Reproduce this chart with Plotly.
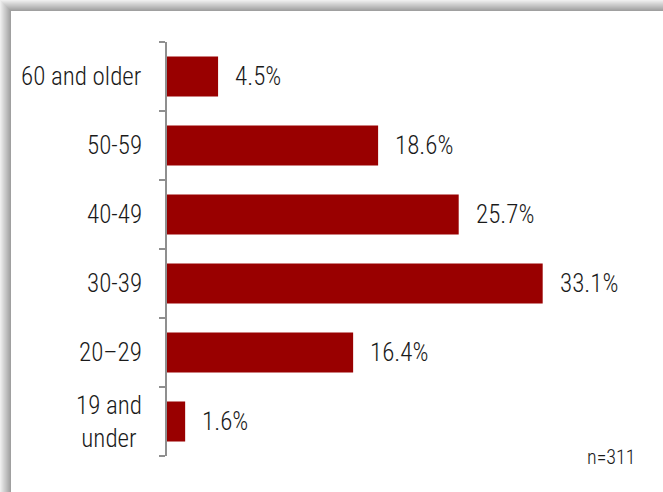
import plotly.graph_objects as go

# Age distribution of respondents
age_groups = ["19 and<br>under", "20\u201329", "30-39", "40-49", "50-59", "60 and older"]
shares = [1.6, 16.4, 33.1, 25.7, 18.6, 4.5]
sample_note = "n=311"

W, H = 663, 492
M_L, M_R, M_T, M_B = 167, 42, 42, 36
FONT = "Roboto Condensed, Liberation Sans Narrow, sans-serif"
BAR = "#990000"
INK = "#1a1a1a"

fig = go.Figure(
    go.Bar(
        x=shares,
        y=age_groups,
        orientation="h",
        marker=dict(color=BAR, line=dict(width=0)),
        hoverinfo="skip",
    )
)

# category labels, centred line by line, left of the axis
for g in age_groups:
    fig.add_annotation(
        x=0, y=g, xref="paper", yref="y",
        text=g, showarrow=False, align="center",
        xanchor="right", yanchor="middle", xshift=-23,
        font=dict(family=FONT, size=25, weight=300, color=INK),
    )

# value labels just past each bar end
for g, v in zip(age_groups, shares):
    fig.add_annotation(
        x=v, y=g, xref="x", yref="y",
        text=f"{v:.1f}%", showarrow=False,
        xanchor="left", yanchor="middle", xshift=15,
        font=dict(family=FONT, size=25, weight=300, color=INK),
    )

fig.add_annotation(
    x=1.037, y=-0.003, xref="paper", yref="paper",
    text=sample_note, showarrow=False,
    xanchor="right", yanchor="middle",
    font=dict(family=FONT, size=20, weight=300, color=INK),
)

# soft frame shadow along the top and left edges
pw = W - M_L - M_R
ph = H - M_T - M_B


def px_x(p):
    return (p - M_L) / pw


def px_y(p):
    return (H - M_B - p) / ph


steps = 11
for i in range(steps):
    t = i / (steps - 1)
    c = int(238 - t * (238 - 160))
    col = f"rgb({c},{c},{c})"
    # top strip
    fig.add_shape(type="rect", xref="paper", yref="paper",
                  x0=px_x(i), x1=px_x(W), y0=px_y(i), y1=px_y(i + 1),
                  fillcolor=col, line=dict(width=0), layer="below")
    # left strip
    fig.add_shape(type="rect", xref="paper", yref="paper",
                  x0=px_x(i), x1=px_x(i + 1), y0=px_y(H), y1=px_y(i),
                  fillcolor=col, line=dict(width=0), layer="below")

fig.update_layout(
    width=W, height=H,
    margin=dict(l=M_L, r=M_R, t=M_T, b=M_B),
    paper_bgcolor="white", plot_bgcolor="white",
    bargap=0.42,
    showlegend=False,
    font=dict(family=FONT, size=25, color=INK),
    xaxis=dict(range=[0, 40], visible=False, fixedrange=True),
    yaxis=dict(
        categoryorder="array", categoryarray=age_groups,
        showline=True, linecolor="#8f8f8f", linewidth=1.5,
        ticks="outside", tickson="boundaries", ticklen=6,
        tickcolor="#8f8f8f", tickwidth=1.5,
        showticklabels=False,
        showgrid=False, zeroline=False, fixedrange=True,
    ),
)

fig.write_html("out.html", config={"displayModeBar": False})
